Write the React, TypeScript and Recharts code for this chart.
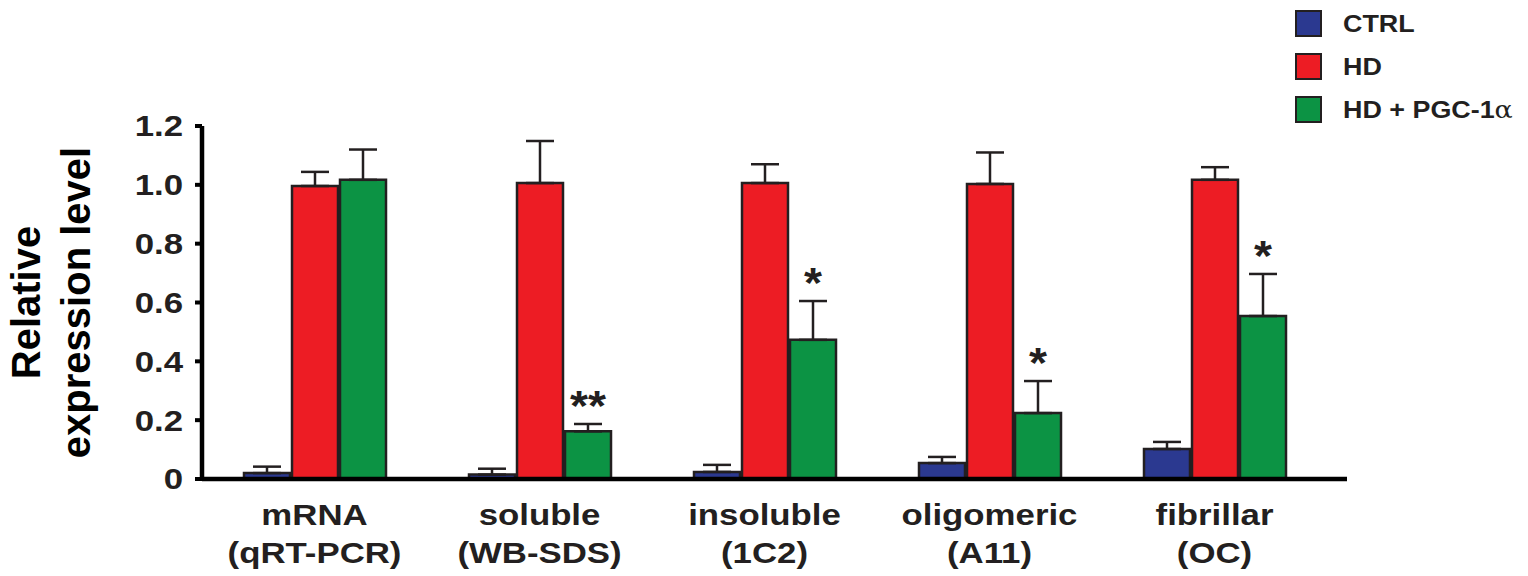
import React from 'react';
import { BarChart, Bar, XAxis, YAxis, ErrorBar, Legend, LabelList } from 'recharts';

// categories (two-line labels)
const groupTop = ['mRNA', 'soluble', 'insoluble', 'oligomeric', 'fibrillar'];
const groupBottom = ['(qRT-PCR)', '(WB-SDS)', '(1C2)', '(A11)', '(OC)'];

// series values + upper error (SEM)
const ctrl = [0.02, 0.015, 0.024, 0.054, 0.102];
const ctrlErr = [0.022, 0.02, 0.024, 0.021, 0.024];
const hd = [0.996, 1.006, 1.006, 1.003, 1.017];
const hdErr = [0.048, 0.143, 0.064, 0.107, 0.043];
const pgc = [1.017, 0.162, 0.473, 0.224, 0.554];
const pgcErr = [0.103, 0.025, 0.132, 0.109, 0.143];
const stars = ['', '**', '*', '*', '*'];

const yTicks = [0, 0.2, 0.4, 0.6, 0.8, 1.0, 1.2];

const INK = '#231f20';
const FONT = '"Liberation Sans", Arial, Helvetica, sans-serif';

const data = groupTop.map((name, i) => ({
  name,
  ctrl: ctrl[i],
  ctrlErr: [0, ctrlErr[i]],
  hd: hd[i],
  hdErr: [0, hdErr[i]],
  pgc: pgc[i],
  pgcErr: [0, pgcErr[i]],
}));

const YTick = ({ x, y, payload }: any) => (
  <g transform={`translate(${x},${y})`}>
    <text transform="scale(1.2,1)" textAnchor="end" dy="0.36em" fill={INK}
      style={{ fontFamily: FONT, fontWeight: 700, fontSize: 29 }}>
      {payload.value === 0 ? '0' : Number(payload.value).toFixed(1)}
    </text>
  </g>
);

const XTick = ({ x, y, payload, index }: any) => {
  const i = typeof index === 'number' ? index : groupTop.indexOf(payload.value);
  return (
    <g transform={`translate(${x},${y})`}>
      <text transform="scale(1.2,1)" textAnchor="middle" fill={INK}
        style={{ fontFamily: FONT, fontWeight: 700, fontSize: 29 }}>
        <tspan x={0} y={46}>{payload.value}</tspan>
        <tspan x={0} y={84}>{groupBottom[i]}</tspan>
      </text>
    </g>
  );
};

const YLabel = ({ viewBox }: any) => {
  const cy = viewBox.y + viewBox.height / 2;
  return (
    <g style={{ fontFamily: FONT, fontWeight: 700, fontSize: 40 }} fill="#000">
      <text transform={`translate(40,${cy}) rotate(-90)`} textAnchor="middle">Relative</text>
      <text transform={`translate(90,${cy}) rotate(-90)`} textAnchor="middle">expression level</text>
    </g>
  );
};

// significance marks sit just above the upper whisker of the PGC-1a bars
const StarLabel = ({ x, y, width, height, value, index }: any) => {
  const s = stars[index];
  if (!s) return null;
  const perUnit = height / value;
  const errTop = y - pgcErr[index] * perUnit;
  return (
    <g transform={`translate(${x + width / 2},${errTop - 4})`}>
      <text transform="scale(1.1,1)" textAnchor="middle" fill={INK}
        style={{ fontFamily: FONT, fontWeight: 700, fontSize: 42 }}>
        {s}
      </text>
    </g>
  );
};

const renderLegend = ({ payload }: any) => (
  <div style={{ fontFamily: FONT }}>
    {(payload || []).map((p: any) => (
      <div key={p.value} style={{ display: 'flex', alignItems: 'center', height: 43 }}>
        <span style={{
          display: 'inline-block', width: 27, height: 27, boxSizing: 'border-box',
          background: p.color, border: `2.5px solid ${INK}`,
        }} />
        <span style={{
          marginLeft: 21, fontWeight: 700, fontSize: 24, color: INK,
          transform: 'scale(1.12,1)', transformOrigin: 'left center', whiteSpace: 'nowrap',
        }}>
          {p.value.endsWith('\u03b1')
            ? <>{p.value.slice(0, -1)}<span style={{ fontWeight: 400, fontFamily: '"DejaVu Serif", serif' }}>{'\u03b1'}</span></>
            : p.value}
        </span>
      </div>
    ))}
  </div>
);

export default function App() {
  return (
    <div style={{ position: 'absolute', left: 0, top: 0, width: 1528, height: 576, background: '#fff' }}>
      <BarChart
        width={1528}
        height={576}
        data={data}
        margin={{ top: 126, right: 181, left: 0, bottom: 67 }}
        barSize={46}
        barGap={2}
      >
        <XAxis
          dataKey="name"
          height={30}
          axisLine={{ stroke: '#000', strokeWidth: 4.5 }}
          tickLine={false}
          tickSize={0}
          tickMargin={0}
          padding={{ left: 0, right: 20 }}
          tick={<XTick />}
          interval={0}
        />
        <YAxis
          width={202}
          domain={[0, 1.2]}
          ticks={yTicks}
          allowDataOverflow
          axisLine={{ stroke: '#000', strokeWidth: 4.5 }}
          tickLine={{ stroke: '#000', strokeWidth: 4 }}
          tickSize={7}
          tickMargin={12}
          tick={<YTick />}
          label={{ content: <YLabel /> }}
        />
        <Legend
          layout="vertical"
          align="center"
          verticalAlign="middle"
          wrapperStyle={{ left: 1295, top: 2, width: 233 }}
          content={renderLegend}
        />
        <Bar dataKey="ctrl" name="CTRL" fill="#2b3990" stroke={INK} strokeWidth={2.5} isAnimationActive={false}>
          <ErrorBar dataKey="ctrlErr" direction="y" width={14} stroke={INK} strokeWidth={2.5} />
        </Bar>
        <Bar dataKey="hd" name="HD" fill="#ed1c24" stroke={INK} strokeWidth={2.5} isAnimationActive={false}>
          <ErrorBar dataKey="hdErr" direction="y" width={14} stroke={INK} strokeWidth={2.5} />
        </Bar>
        <Bar dataKey="pgc" name={'HD + PGC-1\u03b1'} fill="#0c9344" stroke={INK} strokeWidth={2.5} isAnimationActive={false}>
          <ErrorBar dataKey="pgcErr" direction="y" width={14} stroke={INK} strokeWidth={2.5} />
          <LabelList dataKey="pgc" content={<StarLabel />} />
        </Bar>
      </BarChart>
    </div>
  );
}
